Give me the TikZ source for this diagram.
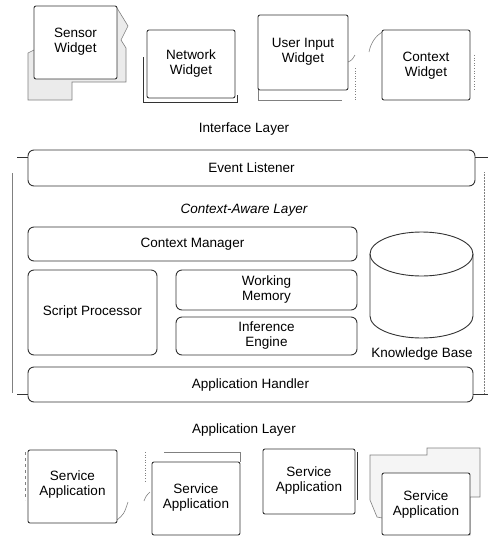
\documentclass[tikz,border=0pt]{standalone}
\usepackage{fontspec}
\setmainfont{Liberation Sans}
\begin{document}
\begin{tikzpicture}[x=1pt,y=-1pt,
  font=\fontsize{13.5}{15}\selectfont,
  edge/.style={draw=black!80,line width=0.9pt},
  faint/.style={draw=black!50,line width=0.6pt},
  rbox/.style={edge,rounded corners=6pt,fill=white},
  wbox/.style={edge,rounded corners=2pt,fill=white},
  lbl/.style={align=center,inner sep=0pt}
]
\useasboundingbox (0,0) rectangle (488,547);

% ---------- widgets (interface layer) ----------
% Sensor widget, with folded back sheet
\draw[faint,fill=black!8] (28,53) -- (28,100) -- (72,100) -- (72,82) -- (126,82)
  -- (126,48) -- (121,40) -- (128,26) -- (117,8) -- cycle;
\draw[wbox] (34,6) rectangle (117,79);
\node[lbl] (sensor) at (75.5,42) {Sensor\\Widget};

% Network widget
\draw[edge] (143,57) -- (143,102) -- (237,102) -- (237,95);
\draw[wbox] (147,30) rectangle (235,98);
\node[lbl] (network) at (191,64) {Network\\Widget};

% User input widget
\draw[faint] (258,90) -- (258,100) -- (342,100);
\draw[faint] (348,62) .. controls (352,60) .. (355,55);
\draw[faint,dotted] (355,68) -- (355,100);
\draw[wbox] (258,15) rectangle (348,90);
\node[lbl] (userinput) at (303,52) {User Input\\Widget};

% Context widget
\draw[faint] (369,52) .. controls (371,42) and (376,36) .. (382,32);
\draw[faint,dotted] (474,55) -- (474,90);
\draw[wbox] (382,30) rectangle (470,100);
\node[lbl] (contextw) at (426,66) {Context\\Widget};

\node[lbl] (iface) at (244,129) {Interface Layer};

% ---------- context-aware layer ----------
\coordinate (fl1) at (12,173);
\coordinate (fl2) at (12,393);
\coordinate (fr1) at (484,172);
\coordinate (fr2) at (484,393);
\draw[black!50,line width=0.5pt] (fl1) -- (fl2);
\draw[black!50,line width=0.5pt,densely dotted] (fr1) -- (fr2);

\draw[rbox] (28,150) rectangle (475,186);
\node[lbl] (event) at (251.5,168) {Event Listener};
\coordinate (el) at (17,157);
\coordinate (er) at (488,157);
\draw[edge] (el) -- (28,157);
\draw[edge] (475,157) -- (er);

\node[lbl,font=\fontsize{13.5}{15}\selectfont\itshape] (calayer) at (244,210) {Context-Aware Layer};

\draw[rbox] (28,227) rectangle (357,261);
\node[lbl] (cm) at (192.5,244) {Context Manager};

\draw[rbox] (28,270) rectangle (157,355);
\node[lbl] (sp) at (92.5,312) {Script Processor};

\draw[rbox] (176,270) rectangle (357,310);
\node[lbl] (wm) at (266.5,290) {Working\\Memory};

\draw[rbox] (176,317) rectangle (357,355);
\node[lbl] (ie) at (266.5,336) {Inference\\Engine};

% Knowledge base cylinder (y axis points down, so the lower half-ellipse runs 180 -> 0)
\draw[edge,fill=white] (370,254) -- (370,316) arc[start angle=180,end angle=0,x radius=51.5,y radius=22]
  -- (473,254) arc[start angle=0,end angle=-180,x radius=51.5,y radius=22] -- cycle;
\draw[edge] (370,254) arc[start angle=180,end angle=0,x radius=51.5,y radius=22];
\node[lbl] (kb) at (422,354) {Knowledge Base};

\draw[rbox] (28,367) rectangle (473,402);
\node[lbl] (ah) at (250.5,385) {Application Handler};
\coordinate (al) at (17,394);
\coordinate (ar) at (488,394);
\draw[edge] (al) -- (28,394);
\draw[edge] (473,394) -- (ar);

\node[lbl] (applayer) at (244,430) {Application Layer};

% ---------- service applications ----------
% 1
\draw[faint,dashed] (25,452) -- (25,500);
\draw[faint] (117,520) .. controls (124,514) .. (128,502);
\draw[wbox] (28,450) rectangle (117,523);
\node[lbl] (sa1) at (72.5,485) {Service\\Application};

% 2
\draw[faint] (164,452) -- (240,452) -- (240,462);
\draw[faint,dotted] (145,452) -- (145,482);
\draw[faint] (144,501) .. controls (146,496) .. (150,492);
\draw[wbox] (152,462) rectangle (240,535);
\node[lbl] (sa2) at (196,498) {Service\\Application};

% 3
\draw[edge] (357,452) -- (357,500);
\draw[wbox] (263,449) rectangle (355,514);
\node[lbl] (sa3) at (309,481) {Service\\Application};

% 4, with folded back sheet
\draw[faint,fill=black!4] (370,500) -- (370,455) -- (427,455) -- (427,448) -- (480,448) -- (480,497)
  -- (470,497) -- (470,535) -- (377,517) -- cycle;
\draw[wbox] (382,473) rectangle (470,535);
\node[lbl] (sa4) at (426,505) {Service\\Application};
\end{tikzpicture}
\end{document}
